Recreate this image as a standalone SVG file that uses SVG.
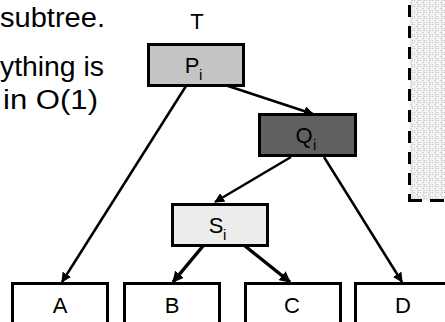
<svg xmlns="http://www.w3.org/2000/svg" width="445" height="322" viewBox="0 0 445 322">
  <defs>
    <style>
      .txt { font-family: "Liberation Sans", Arial, Helvetica, sans-serif; fill: #000; }
      .note { font-size: 27px; }
      .lbl { font-size: 22px; text-anchor: middle; }
      .sub { font-size: 15px; }
      .box { stroke: #000; stroke-width: 3; }
      .edge { fill: none; stroke: #000; stroke-width: 2.5; }
      .edge.bold { stroke-width: 3.5; }
    </style>
    <marker id="arrow" viewBox="0 0 10 10" refX="9" refY="5" markerWidth="4" markerHeight="4" orient="auto" markerUnits="strokeWidth">
      <path d="M0,0 L10,5 L0,10 Z" fill="#000"/>
    </marker>
    <marker id="arrowBold" viewBox="0 0 10 10" refX="9" refY="5" markerWidth="3.2" markerHeight="3.2" orient="auto" markerUnits="strokeWidth">
      <path d="M0,0 L10,5 L0,10 Z" fill="#000"/>
    </marker>
    <!-- fine stipple fill with a faint grid -->
    <pattern id="stipple" width="6" height="6" patternUnits="userSpaceOnUse">
      <rect width="6" height="6" fill="#f4f4f4"/>
      <rect x="0" y="0" width="1" height="1" fill="#bdbdbd"/>
      <rect x="2" y="2" width="1" height="1" fill="#c8c8c8"/>
      <rect x="4" y="0" width="1" height="1" fill="#c8c8c8"/>
      <rect x="0" y="4" width="1" height="1" fill="#c8c8c8"/>
      <rect x="4" y="4" width="1" height="1" fill="#c8c8c8"/>
      <rect x="3" y="0" width="1" height="6" fill="#e0e0e0"/>
    </pattern>
  </defs>

  <!-- side note text -->
  <g id="note">
    <text class="txt note" x="0" y="27" textLength="105" lengthAdjust="spacingAndGlyphs">subtree.</text>
    <text class="txt note" x="0" y="76" textLength="104" lengthAdjust="spacingAndGlyphs">ything is</text>
    <text class="txt note" x="3" y="109" textLength="95" lengthAdjust="spacingAndGlyphs">in O(1)</text>
  </g>

  <!-- dashed panel on the right -->
  <g id="panel">
    <rect x="409.5" y="-5" width="45" height="205.5" fill="url(#stipple)"/>
    <path d="M409.5,5 V201" fill="none" stroke="#000" stroke-width="3" stroke-dasharray="12 9"/>
    <path d="M408,200.5 H445" fill="none" stroke="#000" stroke-width="3" stroke-dasharray="14 8"/>
  </g>

  <!-- tree label -->
  <text id="tree-label" class="txt lbl" x="197" y="29">T</text>

  <!-- connectors -->
  <g id="edges">
    <line class="edge" x1="186" y1="86" x2="62" y2="282" marker-end="url(#arrow)"/>
    <line class="edge" x1="222" y1="84" x2="313" y2="114" marker-end="url(#arrow)"/>
    <line class="edge" x1="291" y1="157" x2="215" y2="202" marker-end="url(#arrow)"/>
    <line class="edge" x1="324" y1="157" x2="402" y2="282" marker-end="url(#arrow)"/>
    <line class="edge bold" x1="203" y1="246" x2="173" y2="282" marker-end="url(#arrowBold)"/>
    <line class="edge bold" x1="245" y1="246" x2="290" y2="282" marker-end="url(#arrowBold)"/>
  </g>

  <!-- nodes -->
  <g id="node-P">
    <rect class="box" x="148.5" y="44.5" width="95" height="41" fill="#c4c4c4"/>
    <text class="txt lbl" x="192" y="73">P</text>
    <text class="txt sub" x="199" y="80">i</text>
  </g>
  <g id="node-Q">
    <rect class="box" x="259.5" y="114.5" width="96" height="41" fill="#606060"/>
    <text class="txt lbl" x="304" y="143">Q</text>
    <text class="txt sub" x="313" y="150">i</text>
  </g>
  <g id="node-S">
    <rect class="box" x="172.5" y="204.5" width="95" height="41" fill="#ececec"/>
    <text class="txt lbl" x="216" y="233">S</text>
    <text class="txt sub" x="223" y="240">i</text>
  </g>
  <g id="node-A">
    <rect class="box" x="12.5" y="283.5" width="95" height="50" fill="#fff"/>
    <text class="txt lbl" x="60" y="313">A</text>
  </g>
  <g id="node-B">
    <rect class="box" x="124.5" y="283.5" width="95" height="50" fill="#fff"/>
    <text class="txt lbl" x="172" y="313">B</text>
  </g>
  <g id="node-C">
    <rect class="box" x="245.5" y="283.5" width="95" height="50" fill="#fff"/>
    <text class="txt lbl" x="292" y="313">C</text>
  </g>
  <g id="node-D">
    <rect class="box" x="355.5" y="283.5" width="95" height="50" fill="#fff"/>
    <text class="txt lbl" x="403" y="313">D</text>
  </g>
</svg>
